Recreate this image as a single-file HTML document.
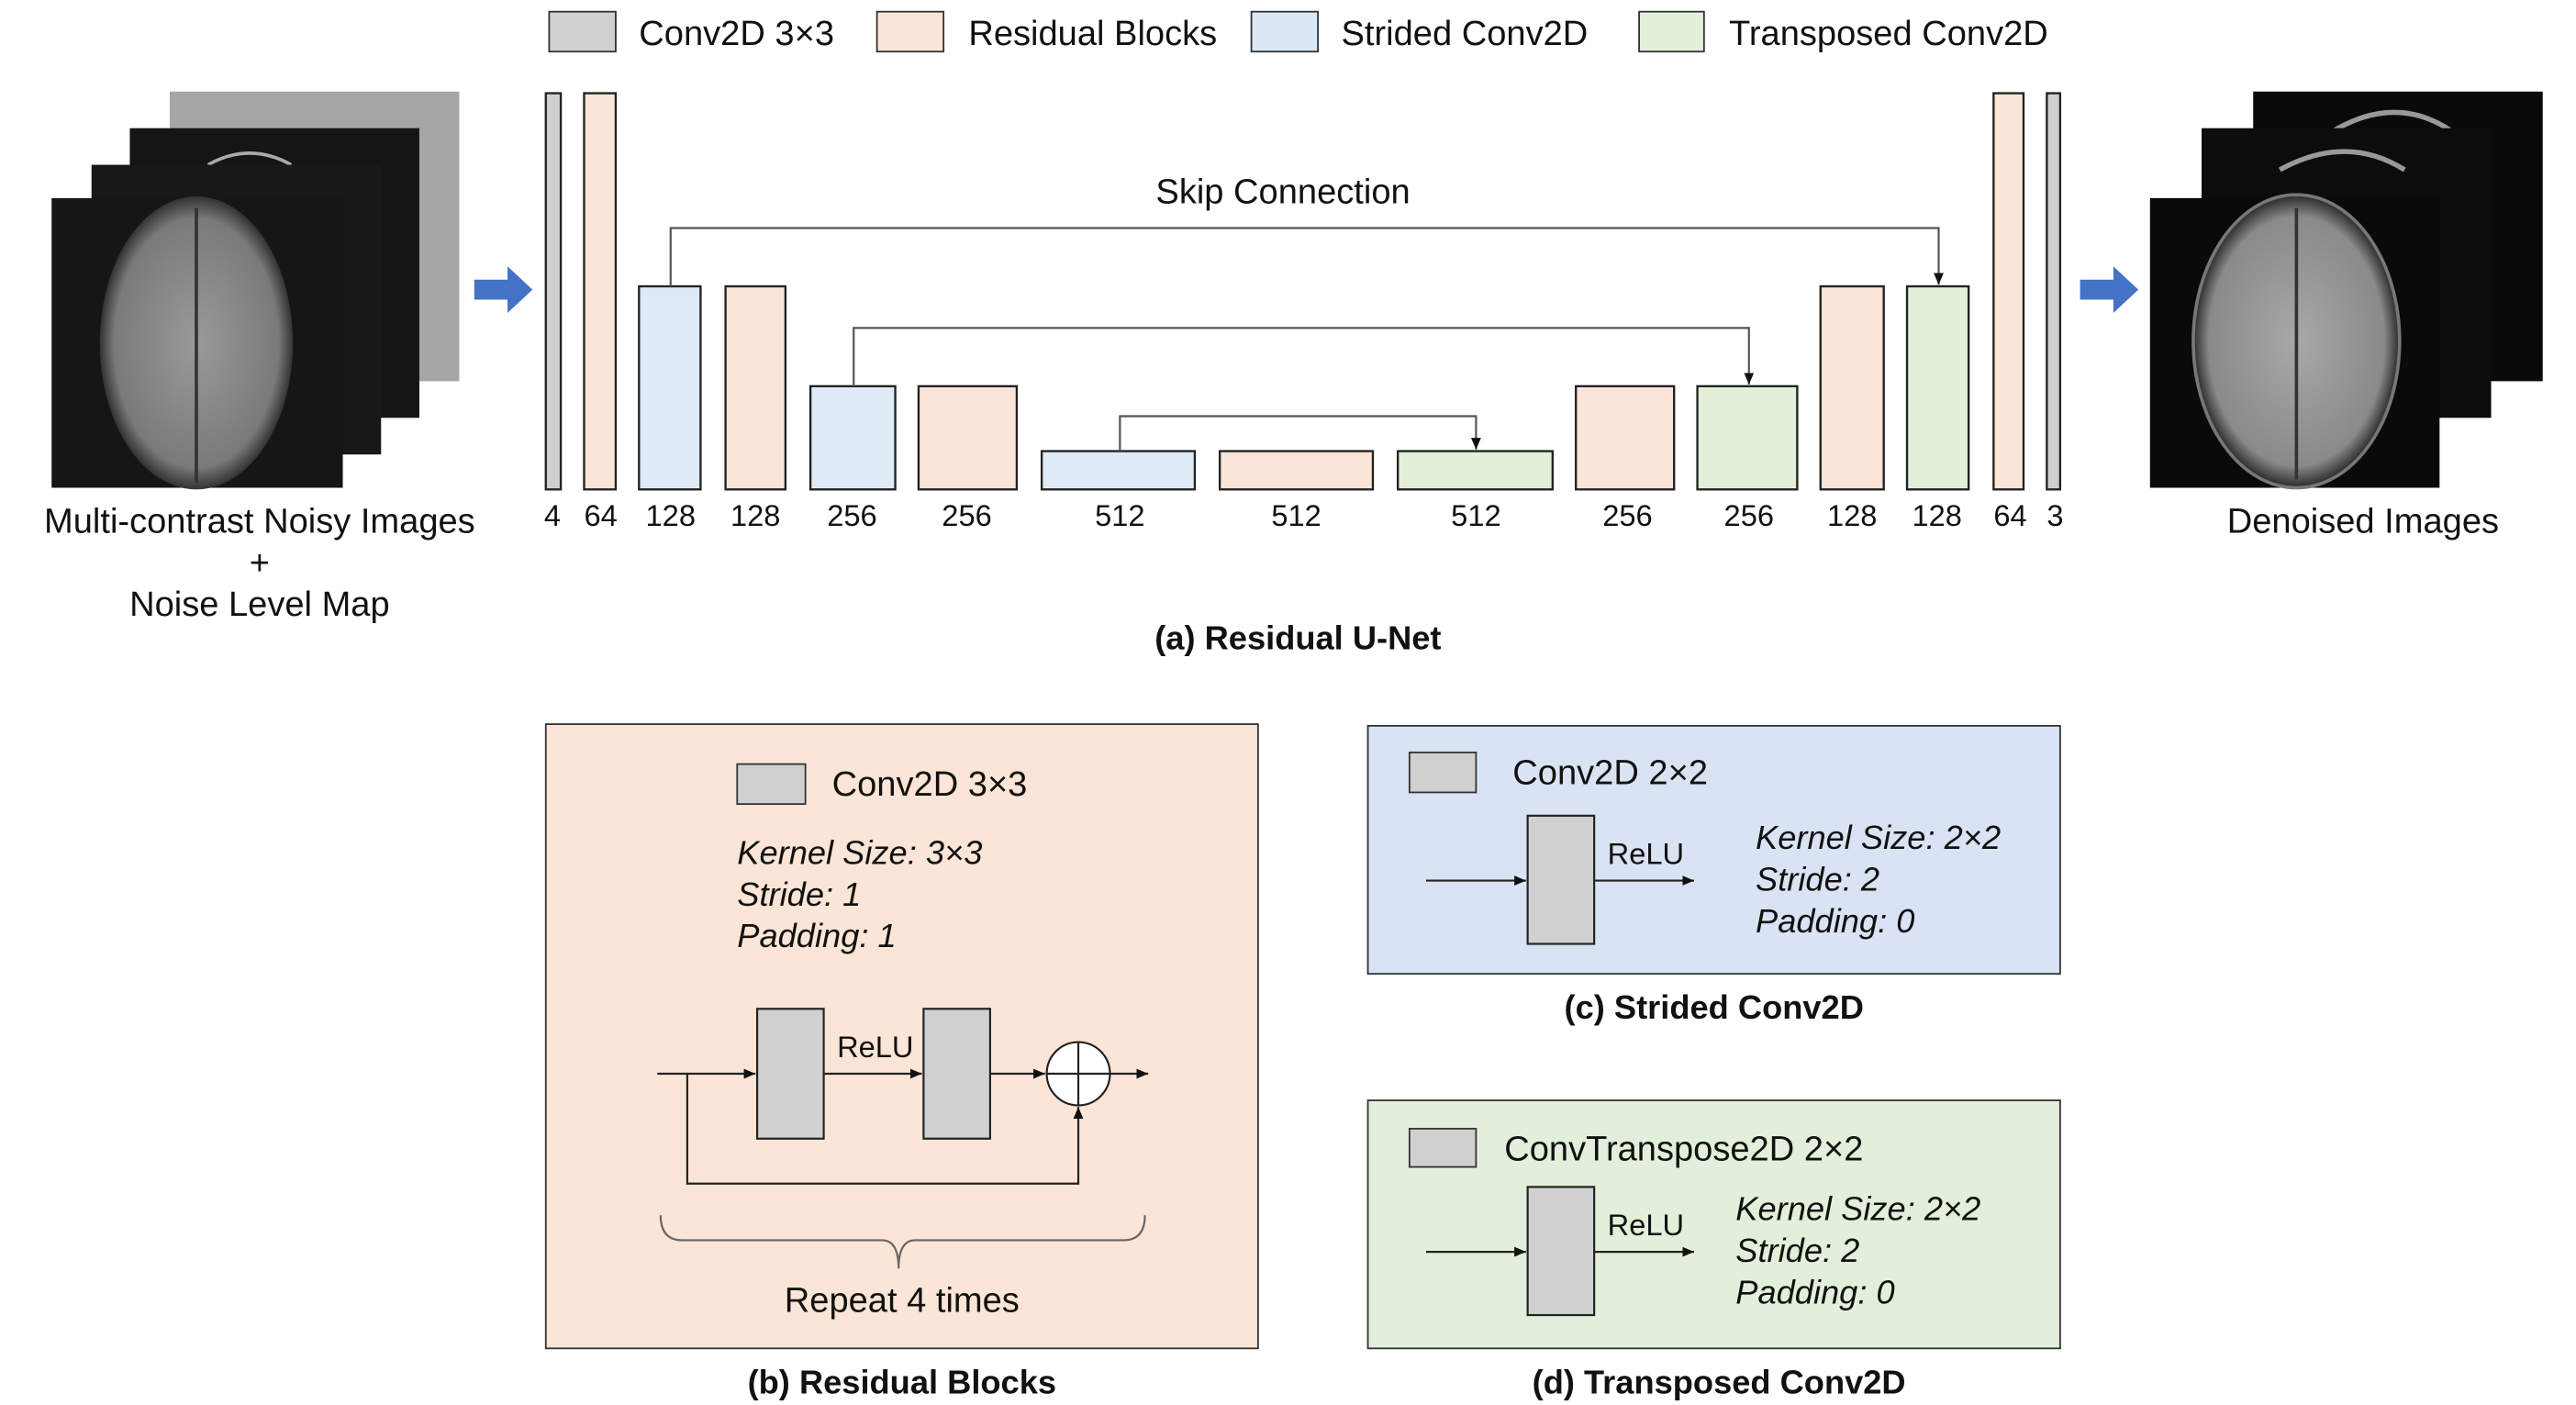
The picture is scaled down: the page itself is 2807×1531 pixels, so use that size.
<!DOCTYPE html>
<html><head><meta charset="utf-8"><style>
html,body{margin:0;padding:0;background:#fff;}
svg{display:block;}
text{font-family:"Liberation Sans",sans-serif;fill:#111;}
</style></head><body>
<svg width="2807" height="1531" viewBox="0 0 1548 844" preserveAspectRatio="none" xmlns="http://www.w3.org/2000/svg">
<defs>
<marker id="ah" markerWidth="8" markerHeight="8" refX="7" refY="4" orient="auto" markerUnits="userSpaceOnUse"><path d="M0,1 L7,4 L0,7 Z" fill="#111"/></marker>
<radialGradient id="brain" cx="50%" cy="50%" r="50%"><stop offset="0" stop-color="#9a9a9a"/><stop offset="0.85" stop-color="#7a7a7a"/><stop offset="1" stop-color="#333"/></radialGradient>
<radialGradient id="brain2" cx="50%" cy="50%" r="50%"><stop offset="0" stop-color="#a8a8a8"/><stop offset="0.85" stop-color="#8a8a8a"/><stop offset="1" stop-color="#2a2a2a"/></radialGradient>
</defs>
<g stroke="#333" stroke-width="1">
<!-- legend -->
<rect x="330" y="7" width="40" height="24" fill="#d0d0d0"/>
<rect x="527" y="7" width="40" height="24" fill="#fbe5d6"/>
<rect x="752" y="7" width="40" height="24" fill="#dae8f5"/>
<rect x="985" y="7" width="39" height="24" fill="#e2f0d9"/>
</g>
<g font-size="21">
<text x="384" y="27">Conv2D 3×3</text>
<text x="582" y="27">Residual Blocks</text>
<text x="806" y="27">Strided Conv2D</text>
<text x="1039" y="27">Transposed Conv2D</text>
</g>
<!-- input images -->
<rect x="102" y="55" width="174" height="174" fill="#a6a6a6"/>
<rect x="78" y="77" width="174" height="174" fill="#151515"/>
<path d="M125,99 Q150,85 175,99" stroke="#aaa" stroke-width="2" fill="none"/>
<rect x="55" y="99" width="174" height="174" fill="#181818"/>
<rect x="31" y="119" width="175" height="174" fill="#161616"/>
<ellipse cx="118" cy="206" rx="58" ry="88" fill="url(#brain)"/>
<path d="M118,125 L118,290" stroke="#333" stroke-width="2"/>
<!-- arrows -->
<path d="M285,168 L305,168 L305,160 L320,174 L305,188 L305,180 L285,180 Z" fill="#4472c4"/>
<path d="M1250,168 L1270,168 L1270,160 L1285,174 L1270,188 L1270,180 L1250,180 Z" fill="#4472c4"/>
<!-- bars -->
<g stroke="#222" stroke-width="1.3">
<rect x="328" y="56" width="9" height="238" fill="#d0d0d0"/>
<rect x="351" y="56" width="19" height="238" fill="#fbe5d6"/>
<rect x="384" y="172" width="37" height="122" fill="#deebf7"/>
<rect x="436" y="172" width="36" height="122" fill="#fbe5d6"/>
<rect x="487" y="232" width="51" height="62" fill="#deebf7"/>
<rect x="552" y="232" width="59" height="62" fill="#fbe5d6"/>
<rect x="626" y="271" width="92" height="23" fill="#deebf7"/>
<rect x="733" y="271" width="92" height="23" fill="#fbe5d6"/>
<rect x="840" y="271" width="93" height="23" fill="#e2f0d9"/>
<rect x="947" y="232" width="59" height="62" fill="#fbe5d6"/>
<rect x="1020" y="232" width="60" height="62" fill="#e2f0d9"/>
<rect x="1094" y="172" width="38" height="122" fill="#fbe5d6"/>
<rect x="1146" y="172" width="37" height="122" fill="#e2f0d9"/>
<rect x="1198" y="56" width="18" height="238" fill="#fbe5d6"/>
<rect x="1230" y="56" width="8" height="238" fill="#d0d0d0"/>
</g>
<g fill="none" stroke="#555" stroke-width="1.2">
<path d="M403,172 V137 H1165 V171" marker-end="url(#ah)"/>
<path d="M513,232 V197 H1051 V231" marker-end="url(#ah)"/>
<path d="M673,271 V250 H887 V270" marker-end="url(#ah)"/>
</g>
<text x="771" y="122" font-size="21" text-anchor="middle">Skip Connection</text>
<g font-size="18" text-anchor="middle">
<text x="332" y="316">4</text><text x="361" y="316">64</text><text x="403" y="316">128</text><text x="454" y="316">128</text>
<text x="512" y="316">256</text><text x="581" y="316">256</text><text x="673" y="316">512</text><text x="779" y="316">512</text>
<text x="887" y="316">512</text><text x="978" y="316">256</text><text x="1051" y="316">256</text><text x="1113" y="316">128</text>
<text x="1164" y="316">128</text><text x="1208" y="316">64</text><text x="1235" y="316">3</text>
</g>
<!-- output images -->
<rect x="1354" y="55" width="174" height="174" fill="#0a0a0a"/>
<path d="M1400,80 Q1440,55 1475,80" stroke="#999" stroke-width="3" fill="none"/>
<rect x="1323" y="77" width="174" height="174" fill="#0c0c0c"/>
<path d="M1370,102 Q1410,80 1445,102" stroke="#999" stroke-width="3" fill="none"/>
<rect x="1292" y="119" width="174" height="174" fill="#0a0a0a"/>
<ellipse cx="1380" cy="205" rx="62" ry="88" fill="url(#brain2)"/>
<ellipse cx="1380" cy="205" rx="62" ry="88" fill="none" stroke="#777" stroke-width="2"/>
<path d="M1380,125 L1380,288" stroke="#333" stroke-width="2"/>
<g font-size="21" text-anchor="middle">
<text x="156" y="320">Multi-contrast Noisy Images</text>
<text x="156" y="345">+</text>
<text x="156" y="370">Noise Level Map</text>
<text x="1420" y="320">Denoised Images</text>
</g>
<text x="780" y="390" font-size="20" font-weight="bold" text-anchor="middle">(a) Residual U-Net</text>
<!-- panel b -->
<rect x="328" y="435" width="428" height="375" fill="#fbe5d6" stroke="#333" stroke-width="1"/>
<rect x="443" y="459" width="41" height="24" fill="#d0d0d0" stroke="#333"/>
<text x="500" y="478" font-size="21">Conv2D 3×3</text>
<g font-size="20" font-style="italic">
<text x="443" y="519">Kernel Size: 3×3</text>
<text x="443" y="544">Stride: 1</text>
<text x="443" y="569">Padding: 1</text>
</g>
<g stroke="#222" stroke-width="1.2" fill="none">
<rect x="455" y="606" width="40" height="78" fill="#d0d0d0"/>
<rect x="555" y="606" width="40" height="78" fill="#d0d0d0"/>
<path d="M395,645 H454" marker-end="url(#ah)"/>
<path d="M495,645 H554" marker-end="url(#ah)"/>
<path d="M595,645 H628" marker-end="url(#ah)"/>
<circle cx="648" cy="645" r="19" fill="#fff"/>
<path d="M629,645 H667 M648,626 V664"/>
<path d="M667,645 H690" marker-end="url(#ah)"/>
<path d="M413,645 V711 H648 V665" marker-end="url(#ah)"/>
<path d="M397,730 Q397,745 410,745 H530 Q540,745 540,762 Q540,745 550,745 H675 Q688,745 688,730" stroke="#666"/>
</g>
<text x="503" y="635" font-size="18">ReLU</text>
<text x="542" y="788" font-size="21" text-anchor="middle">Repeat 4 times</text>
<text x="542" y="837" font-size="20" font-weight="bold" text-anchor="middle">(b) Residual Blocks</text>
<!-- panel c -->
<rect x="822" y="436" width="416" height="149" fill="#dae3f3" stroke="#333"/>
<rect x="847" y="452" width="40" height="24" fill="#d0d0d0" stroke="#333"/>
<text x="909" y="471" font-size="21">Conv2D 2×2</text>
<rect x="918" y="490" width="40" height="77" fill="#d0d0d0" stroke="#222" stroke-width="1.2"/>
<g stroke="#222" stroke-width="1.2" fill="none">
<path d="M857,529 H917" marker-end="url(#ah)"/>
<path d="M958,529 H1018" marker-end="url(#ah)"/>
</g>
<text x="966" y="519" font-size="18">ReLU</text>
<g font-size="20" font-style="italic">
<text x="1055" y="510">Kernel Size: 2×2</text>
<text x="1055" y="535">Stride: 2</text>
<text x="1055" y="560">Padding: 0</text>
</g>
<text x="1030" y="612" font-size="20" font-weight="bold" text-anchor="middle">(c) Strided Conv2D</text>
<!-- panel d -->
<rect x="822" y="661" width="416" height="149" fill="#e2efda" stroke="#333"/>
<rect x="847" y="678" width="40" height="23" fill="#d0d0d0" stroke="#333"/>
<text x="904" y="697" font-size="21">ConvTranspose2D 2×2</text>
<rect x="918" y="713" width="40" height="77" fill="#d0d0d0" stroke="#222" stroke-width="1.2"/>
<g stroke="#222" stroke-width="1.2" fill="none">
<path d="M857,752 H917" marker-end="url(#ah)"/>
<path d="M958,752 H1018" marker-end="url(#ah)"/>
</g>
<text x="966" y="742" font-size="18">ReLU</text>
<g font-size="20" font-style="italic">
<text x="1043" y="733">Kernel Size: 2×2</text>
<text x="1043" y="758">Stride: 2</text>
<text x="1043" y="783">Padding: 0</text>
</g>
<text x="1033" y="837" font-size="20" font-weight="bold" text-anchor="middle">(d) Transposed Conv2D</text>
</svg>
</body></html>
